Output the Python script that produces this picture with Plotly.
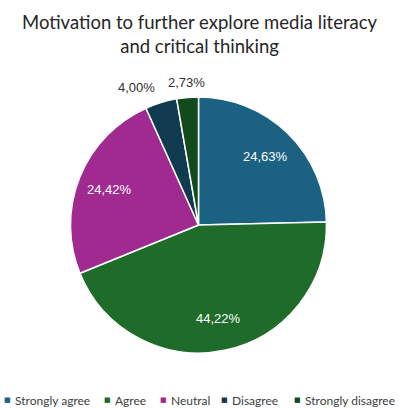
import math
import plotly.graph_objects as go

categories = ["Strongly agree", "Agree", "Neutral", "Disagree", "Strongly disagree"]
values = [24.63, 44.22, 24.42, 4.00, 2.73]
colors = ["#1a6182", "#1e6b2a", "#a02a8f", "#0f3a4f", "#134a1c"]
positions = ["inside", "inside", "inside", "outside", "outside"]

W, H = 399, 408
M = dict(l=0, r=2, t=97, b=55)
PW, PH = W - M["l"] - M["r"], H - M["t"] - M["b"]
R = min(PW, PH) / 2


def px_to_paper(x, y):
    return (x - M["l"]) / PW, (H - M["b"] - y) / PH


fig = go.Figure(go.Pie(
    labels=categories,
    values=values,
    textinfo="none",
    marker=dict(colors=colors, line=dict(color="white", width=1.5)),
    sort=False,
    direction="clockwise",
    hoverinfo="label+percent",
    showlegend=False,
))

# data labels (Excel-style, comma decimals), placed along each slice's mid-angle
cx, cy = M["l"] + PW / 2, M["t"] + PH / 2
total = sum(values)
cum = 0.0
for v, pos in zip(values, positions):
    mid = (cum + v / 2) / total * 2 * math.pi
    cum += v
    s, c = math.sin(mid), math.cos(mid)
    txt = f"{v:.2f}%".replace(".", ",")
    if pos == "inside":
        rr = 0.75 * R
        xa, col = "center", "white"
    else:
        rr = 1.12 * R
        xa = "center" if abs(s) < 0.15 else ("right" if s < 0 else "left")
        col = "#303030"
    x, y = px_to_paper(cx + rr * s, cy - rr * c)
    fig.add_annotation(x=x, y=y, xref="paper", yref="paper", text=txt, showarrow=False,
                       xanchor=xa, yanchor="middle",
                       font=dict(family="Liberation Sans, Arial", size=13, color=col))

# legend drawn as annotations
legend_sq = [7, 107, 163, 224, 297]
for cat, col, sx in zip(categories, colors, legend_sq):
    x, y = px_to_paper(sx, 400)
    fig.add_annotation(x=x, y=y, xref="paper", yref="paper", text="■", showarrow=False,
                       xanchor="center", yanchor="middle",
                       font=dict(family="DejaVu Sans", size=7, color=col))
    x, y = px_to_paper(sx + 6, 400)
    fig.add_annotation(x=x, y=y, xref="paper", yref="paper", text=cat, showarrow=False,
                       xanchor="left", yanchor="middle",
                       font=dict(family="Lato, Liberation Sans", size=12, color="#404040"))

# title
tx, ty = px_to_paper(W / 2, 33.5)
fig.add_annotation(x=tx, y=ty, xref="paper", yref="paper", showarrow=False,
                   text="Motivation to further explore media literacy<br>and critical thinking",
                   xanchor="center", yanchor="middle",
                   font=dict(family="Lato, Open Sans", size=18.5, color="#262626"))

fig.update_layout(
    width=W, height=H,
    margin=M,
    paper_bgcolor="white",
)

fig.write_html("out.html")
